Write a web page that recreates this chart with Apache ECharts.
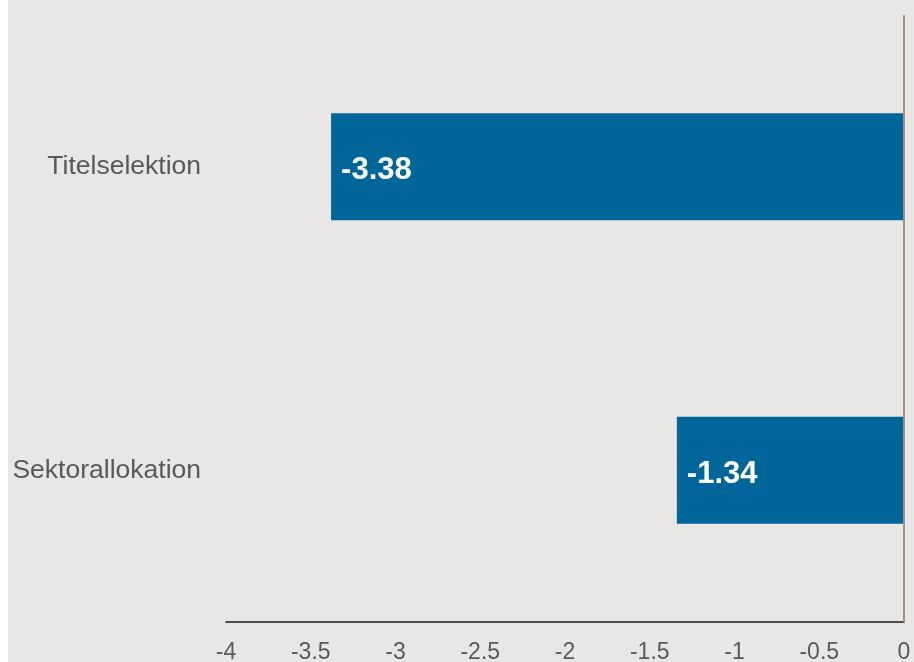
<!DOCTYPE html>
<html>
<head>
<meta charset="utf-8">
<script src="https://cdn.jsdelivr.net/npm/echarts@6/dist/echarts.min.js"></script>
<style>
  body { margin: 0; background: #fff; }
  #main { width: 914px; height: 662px; background: linear-gradient(to right, #ffffff 8px, #e8e7e5 8px); }
</style>
</head>
<body>
<div id="main"></div>
<script>
// categories from bottom to top (category axis starts at bottom)
var categories = ['Sektorallokation', 'Titelselektion'];
var values = [-1.34, -3.38];
var tickMin = -4, tickMax = 0, tickStep = 0.5;

var chart = echarts.init(document.getElementById('main'));

var option = {
    animation: false,
    grid: { left: 226, right: 10, top: 15, bottom: 40, containLabel: false, outerBoundsMode: 'none' },
    xAxis: {
        type: 'value',
        min: tickMin,
        max: tickMax,
        interval: tickStep,
        axisLine: { show: true, onZero: false, lineStyle: { color: '#1a1a1a', width: 1.5 } },
        axisTick: { show: false },
        splitLine: { show: false },
        axisLabel: {
            color: '#595959',
            fontSize: 23,
            fontFamily: 'Liberation Sans, Arial, sans-serif',
            margin: 19
        }
    },
    yAxis: {
        type: 'category',
        data: categories,
        axisLine: { show: false },
        axisTick: { show: false },
        axisLabel: {
            color: '#595959',
            fontSize: 26.5,
            fontFamily: 'Liberation Sans, Arial, sans-serif',
            margin: 25,
            padding: [3, 0, 0, 0]
        }
    },
    series: [{
        type: 'bar',
        data: values,
        barWidth: 107,
        itemStyle: { color: '#006699' },
        label: {
            show: true,
            position: 'insideLeft',
            distance: 10,
            color: '#ffffff',
            fontSize: 31,
            fontWeight: 'bold',
            fontFamily: 'Liberation Sans, Arial, sans-serif',
            offset: [0, 4],
            formatter: function (p) { return p.value.toFixed(2); }
        },
        markLine: {
            silent: true,
            symbol: 'none',
            label: { show: false },
            lineStyle: { color: '#9b9189', width: 2, type: 'solid' },
            data: [{ xAxis: 0 }]
        }
    }]
};

chart.setOption(option);
</script>
</body>
</html>
